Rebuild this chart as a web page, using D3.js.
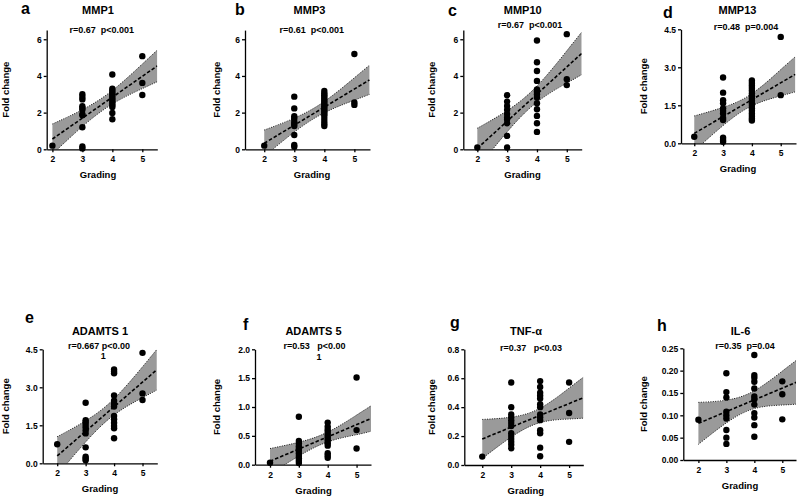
<!DOCTYPE html>
<html>
<head>
<meta charset="utf-8">
<style>
body { margin: 0; background: #fff; }
svg text { font-family: Arial, "Liberation Sans", sans-serif; font-weight: bold; fill: #000; }
.axis path, .axis line { stroke: #000; stroke-width: 1.3px; }
.stat { white-space: pre; }
</style>
</head>
<body>
<div id="fig"></div>
<script src="https://d3js.org/d3.v7.min.js"></script>
<script>

var grades = [2, 3, 4, 5];
var fitX = [2, 5.5];
var bandX = [2, 3, 4, 5, 5.5];

// fold change per grade (2,3,4,5)
var mmp1 = [[0.2], [3.0, 2.85, 2.72, 2.35, 2.25, 2.15, 1.92, 1.85, 1.2, 0.15, 0.05], [4.08, 3.3, 3.2, 3.1, 3.0, 2.9, 2.8, 2.7, 2.6, 2.5, 2.4, 2.3, 1.98, 1.64], [5.08, 3.62, 2.96]];
var mmp1Fit = [0.56, 4.55];
var mmp1Hi = [1.38, 2.16, 3.21, 4.65, 5.41];
var mmp1Lo = [-0.26, 1.24, 2.47, 3.31, 3.69];

var mmp3 = [[0.2], [2.87, 2.23, 1.8, 1.68, 1.5, 1.38, 1.27, 0.78, 0.24, 0.14], [3.18, 3.05, 2.95, 2.85, 2.75, 2.65, 2.55, 2.45, 2.35, 2.25, 2.15, 2.05, 1.95, 1.85, 1.7, 1.55, 1.4, 1.27], [5.2, 2.55, 2.42]];
var mmp3Fit = [0.33, 3.78];
var mmp3Hi = [1.05, 1.70, 2.61, 3.90, 4.58];
var mmp3Lo = [-0.39, 0.94, 1.99, 2.68, 2.99];

var mmp10 = [[0.1], [2.95, 2.6, 2.36, 2.15, 1.93, 1.73, 1.62, 1.42, 0.73, 0.1], [5.93, 4.75, 4.27, 3.73, 3.27, 3.15, 3.0, 2.82, 2.51, 2.18, 1.82, 1.42, 0.95], [6.28, 3.82, 3.5]];
var mmp10Fit = [0.05, 5.23];
var mmp10Hi = [1.15, 2.11, 3.45, 5.37, 6.39];
var mmp10Lo = [-1.05, 0.95, 2.57, 3.61, 4.07];

var mmp13 = [[0.26], [2.6, 2.0, 1.7, 1.58, 1.38, 1.28, 1.18, 1.0, 0.92, 0.22, 0.13, 0.06], [2.48, 2.38, 2.28, 2.18, 2.08, 1.98, 1.88, 1.78, 1.68, 1.58, 1.48, 1.38, 1.28, 1.18, 1.08, 0.98, 0.9], [4.2, 1.9]];
var mmp13Fit = [0.39, 2.72];
var mmp13Hi = [1.08, 1.42, 1.96, 2.91, 3.41];
var mmp13Lo = [-0.30, 0.70, 1.48, 1.87, 2.03];

var adamts1 = [[0.75], [2.39, 1.7, 1.62, 1.52, 1.42, 1.3, 1.18, 0.63, 0.26, 0.19, 0.12], [3.7, 3.62, 3.55, 2.68, 2.47, 2.35, 2.24, 1.87, 1.74, 1.6, 1.47, 1.38, 0.99], [4.36, 2.76, 2.5]];
var adamts1Fit = [0.29, 3.69];
var adamts1Hi = [1.05, 1.68, 2.55, 3.81, 4.49];
var adamts1Lo = [-0.47, 0.84, 1.91, 2.59, 2.89];

var adamts5 = [[0.035], [0.83, 0.41, 0.37, 0.32, 0.28, 0.24, 0.2, 0.15, 0.11, 0.07, 0.03], [0.73, 0.66, 0.61, 0.57, 0.53, 0.49, 0.45, 0.41, 0.37, 0.33, 0.2, 0.16, 0.12], [1.51, 0.6, 0.28]];
var adamts5Fit = [0.06, 0.80];
var adamts5Hi = [0.28, 0.39, 0.565, 0.86, 1.02];
var adamts5Lo = [-0.16, 0.15, 0.395, 0.52, 0.58];

var tnf = [[0.058], [0.57, 0.4, 0.35, 0.33, 0.31, 0.29, 0.27, 0.22, 0.2, 0.18, 0.16, 0.14, 0.115], [0.58, 0.54, 0.5, 0.48, 0.46, 0.42, 0.4, 0.35, 0.33, 0.31, 0.24, 0.22, 0.12, 0.06], [0.57, 0.36, 0.16]];
var tnfFit = [0.18, 0.466];
var tnfHi = [0.315, 0.331, 0.393, 0.532, 0.608];
var tnfLo = [0.045, 0.193, 0.293, 0.318, 0.324];

var il6 = [[0.09], [0.194, 0.152, 0.14, 0.108, 0.1, 0.093, 0.067, 0.05, 0.036], [0.235, 0.19, 0.184, 0.175, 0.16, 0.142, 0.136, 0.124, 0.105, 0.095, 0.078, 0.052], [0.176, 0.147, 0.091]];
var il6Fit = [0.082, 0.174];
var il6Hi = [0.129, 0.134, 0.155, 0.199, 0.223];
var il6Lo = [0.035, 0.083, 0.115, 0.123, 0.125];

var panels = [
  {letter: "a", title: "MMP1", stat: ["r=0.67  p<0.001"], pts: mmp1, fit: mmp1Fit, hi: mmp1Hi, lo: mmp1Lo, yMax: 6.5, yTicks: [0, 2, 4, 6], fmt: "d"},
  {letter: "b", title: "MMP3", stat: ["r=0.61  p<0.001"], pts: mmp3, fit: mmp3Fit, hi: mmp3Hi, lo: mmp3Lo, yMax: 6.5, yTicks: [0, 2, 4, 6], fmt: "d"},
  {letter: "c", title: "MMP10", stat: ["r=0.67  p<0.001"], pts: mmp10, fit: mmp10Fit, hi: mmp10Hi, lo: mmp10Lo, yMax: 6.5, yTicks: [0, 2, 4, 6], fmt: "d"},
  {letter: "d", title: "MMP13", stat: ["r=0.48  p=0.004"], pts: mmp13, fit: mmp13Fit, hi: mmp13Hi, lo: mmp13Lo, yMax: 4.5, yTicks: [0, 1.5, 3, 4.5], fmt: ".1f"},
  {letter: "e", title: "ADAMTS 1", stat: ["r=0.667 p<0.00", "1"], pts: adamts1, fit: adamts1Fit, hi: adamts1Hi, lo: adamts1Lo, yMax: 4.5, yTicks: [0, 1.5, 3, 4.5], fmt: ".1f"},
  {letter: "f", title: "ADAMTS 5", stat: ["r=0.53   p<0.00", "1"], pts: adamts5, fit: adamts5Fit, hi: adamts5Hi, lo: adamts5Lo, yMax: 2, yTicks: [0, 0.5, 1, 1.5, 2], fmt: ".1f"},
  {letter: "g", title: "TNF-α", stat: ["r=0.37   p<0.03"], pts: tnf, fit: tnfFit, hi: tnfHi, lo: tnfLo, yMax: 0.8, yTicks: [0, 0.2, 0.4, 0.6, 0.8], fmt: ".1f"},
  {letter: "h", title: "IL-6", stat: ["r=0.35  p=0.04"], pts: il6, fit: il6Fit, hi: il6Hi, lo: il6Lo, yMax: 0.25, yTicks: [0, 0.05, 0.1, 0.15, 0.2, 0.25], fmt: ".2f"}
];

// where each panel sits on the page
var layout = [
  {left: 46.7, right: 157.3, top: 30.1, bottom: 149.3, xMin: 1.81, xMax: 5.5, letterX: 21, letterY: 14, titleX: 98, titleY: 10.5, statX: 101.7, statY: 29.5, labelX: 6, gradX: 98, gradY: 175},
  {left: 245, right: 370, top: 30.1, bottom: 149.3, xMin: 1.36, xMax: 5.52, letterX: 235, letterY: 15, titleX: 309.5, titleY: 10.5, statX: 311.7, statY: 30, labelX: 217, gradX: 312, gradY: 175},
  {left: 463.3, right: 581.7, top: 30.1, bottom: 149.3, xMin: 1.53, xMax: 5.5, letterX: 448, letterY: 15.5, titleX: 522.7, titleY: 10.5, statX: 530, statY: 25, labelX: 431.5, gradX: 522.5, gradY: 175},
  {left: 681, right: 796, top: 29.3, bottom: 143.3, xMin: 1.54, xMax: 5.53, letterX: 663, letterY: 18, titleX: 737.5, titleY: 10, statX: 746, statY: 27, labelX: 644, gradX: 738, gradY: 169},
  {left: 42.7, right: 157.3, top: 349.3, bottom: 463.3, xMin: 1.49, xMax: 5.52, letterX: 25, letterY: 323, titleX: 100, titleY: 331, statX: 99, statY: 345.5, stat2X: 103.3, stat2Y: 356, labelX: 5.5, gradX: 100, gradY: 489},
  {left: 255, right: 371, top: 349.3, bottom: 464.7, xMin: 1.48, xMax: 5.5, letterX: 243, letterY: 330, titleX: 313.5, titleY: 331, statX: 314.5, statY: 346, stat2X: 319, stat2Y: 357, labelX: 217, gradX: 313.5, gradY: 490.5},
  {left: 464.3, right: 583.3, top: 349.3, bottom: 465, xMin: 1.38, xMax: 5.49, letterX: 450, letterY: 328, titleX: 526, titleY: 331, statX: 531, statY: 348, labelX: 431.5, gradX: 525.8, gradY: 490.5},
  {left: 683.3, right: 796, top: 348.3, bottom: 460, xMin: 1.46, xMax: 5.49, letterX: 657, letterY: 331, titleX: 740.5, titleY: 331, statX: 745, statY: 346, labelX: 643.5, gradX: 740, gradY: 486}
];

var svg = d3.select("#fig").append("svg")
    .attr("width", 798)
    .attr("height", 497);

panels.forEach(function(p, i) {
  var L = layout[i];

  var x = d3.scaleLinear().domain([L.xMin, L.xMax]).range([L.left, L.right]);
  var y = d3.scaleLinear().domain([0, p.yMax]).range([L.bottom, L.top]);

  var g = svg.append("g").attr("class", "panel");

  g.append("clipPath").attr("id", "clip" + i)
    .append("rect")
    .attr("x", L.left).attr("y", L.top)
    .attr("width", L.right - L.left).attr("height", L.bottom - L.top);

  var band = bandX.map(function(v, j) { return {x: v, lo: p.lo[j], hi: p.hi[j]}; });

  var area = d3.area()
    .x(function(d) { return x(d.x); })
    .y0(function(d) { return y(d.lo); })
    .y1(function(d) { return y(d.hi); })
    .curve(d3.curveNatural);

  g.append("path")
    .datum(band)
    .attr("clip-path", "url(#clip" + i + ")")
    .attr("d", area)
    .attr("fill", "#9a9a9a");

  // dotted edges of the confidence band
  ["hi", "lo"].forEach(function(k) {
    var edge = d3.line()
      .x(function(d) { return x(d.x); })
      .y(function(d) { return y(d[k]); })
      .curve(d3.curveNatural);
    g.append("path")
      .datum(band)
      .attr("clip-path", "url(#clip" + i + ")")
      .attr("d", edge)
      .attr("fill", "none")
      .attr("stroke", "#1a1a1a")
      .attr("stroke-width", 1)
      .attr("stroke-dasharray", "1,1.4");
  });

  // regression line
  var fitLine = d3.line()
    .x(function(d) { return x(d[0]); })
    .y(function(d) { return y(d[1]); });
  g.append("path")
    .datum(fitX.map(function(v, j) { return [v, p.fit[j]]; }))
    .attr("clip-path", "url(#clip" + i + ")")
    .attr("d", fitLine)
    .attr("fill", "none")
    .attr("stroke", "#000")
    .attr("stroke-width", 1.6)
    .attr("stroke-dasharray", "3.5,2");

  // axes
  var yAxis = d3.axisLeft(y).tickValues(p.yTicks).tickFormat(d3.format(p.fmt)).tickSize(3).tickSizeOuter(0).tickPadding(2);
  g.append("g").attr("class", "axis")
    .attr("transform", "translate(" + L.left + ",0)")
    .call(yAxis)
    .attr("font-size", 8.5);

  var xAxis = d3.axisBottom(x).tickValues(grades).tickFormat(d3.format("d")).tickSize(3).tickSizeOuter(0).tickPadding(4);
  g.append("g").attr("class", "axis")
    .attr("transform", "translate(0," + L.bottom + ")")
    .call(xAxis)
    .attr("font-size", 8.5);

  // points
  var pts = [];
  p.pts.forEach(function(vals, j) {
    vals.forEach(function(v) { pts.push({x: grades[j], y: v}); });
  });
  g.selectAll(".dot")
    .data(pts)
  .enter().append("circle")
    .attr("class", "dot")
    .attr("cx", function(d) { return x(d.x); })
    .attr("cy", function(d) { return y(d.y); })
    .attr("r", 3.2)
    .attr("fill", "#000");

  // texts
  g.append("text")
    .attr("x", L.letterX).attr("y", L.letterY)
    .attr("font-size", 16)
    .text(p.letter);

  g.append("text")
    .attr("x", L.titleX).attr("y", L.titleY)
    .attr("dy", "0.35em")
    .attr("text-anchor", "middle")
    .attr("font-size", 11)
    .text(p.title);

  g.append("text")
    .attr("class", "stat")
    .attr("x", L.statX).attr("y", L.statY)
    .attr("dy", "0.35em")
    .attr("text-anchor", "middle")
    .attr("font-size", 9)
    .text(p.stat[0]);

  if (p.stat.length > 1) {
    g.append("text")
      .attr("x", L.stat2X).attr("y", L.stat2Y)
      .attr("dy", "0.35em")
      .attr("text-anchor", "middle")
      .attr("font-size", 9)
      .text(p.stat[1]);
  }

  g.append("text")
    .attr("transform", "translate(" + L.labelX + "," + ((L.top + L.bottom) / 2) + ") rotate(-90)")
    .attr("dy", "0.35em")
    .attr("text-anchor", "middle")
    .attr("font-size", 9.5)
    .text("Fold change");

  g.append("text")
    .attr("x", L.gradX).attr("y", L.gradY)
    .attr("dy", "0.35em")
    .attr("text-anchor", "middle")
    .attr("font-size", 9.5)
    .text("Grading");
});

</script>
</body>
</html>
